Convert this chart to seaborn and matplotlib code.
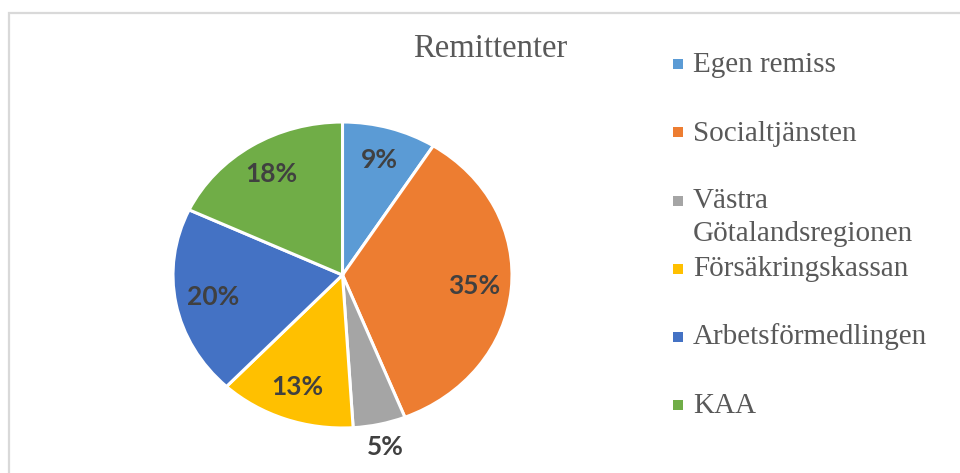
import matplotlib
matplotlib.use("Agg")
import matplotlib.pyplot as plt
import seaborn as sns
import numpy as np
from matplotlib.patches import Rectangle

# ---- data ----
title = "Remittenter"
categories = ["Egen remiss", "Socialtjänsten", "Västra\nGötalandsregionen",
              "Försäkringskassan", "Arbetsförmedlingen", "KAA"]
values = [9, 35, 5, 13, 20, 18]
colors = sns.color_palette(["#5B9BD5", "#ED7D31", "#A5A5A5", "#FFC000", "#4472C4", "#70AD47"])

sns.set_theme(style="white")
plt.rcParams["font.family"] = ["DejaVu Sans"]

W, H = 960, 473
fig = plt.figure(figsize=(W / 100, H / 100), dpi=100)
fig.patch.set_facecolor("white")

def fx(px):
    return px / W

def fy(py):
    return (H - py) / H

# chart border (light gray frame, cut off at right and bottom)
fig.add_artist(Rectangle((fx(9), fy(482)), fx(960) - fx(9) + 0.01, fy(13) - fy(482),
                         transform=fig.transFigure, fill=False,
                         edgecolor="#d9d9d9", linewidth=1.6))

# pie axes (slightly stretched horizontally as in reference)
left, right, top, bottom = 173, 512, 122, 428
ax = fig.add_axes([fx(left), fy(bottom), fx(right) - fx(left), fy(top) - fy(bottom)])
wedges, _ = ax.pie(values, colors=colors, startangle=90, counterclock=False,
                   wedgeprops=dict(edgecolor="white", linewidth=2.2))
ax.set_aspect("auto")
ax.set_xlim(-1, 1)
ax.set_ylim(-1, 1)
ax.axis("off")

total = sum(values)
for w, v in zip(wedges, values):
    ang = np.deg2rad((w.theta1 + w.theta2) / 2)
    r = 0.78 if v / total > 0.07 else 1.15
    ax.text(r * np.cos(ang), r * np.sin(ang), f"{v}%", ha="center", va="center",
            fontsize=19, fontweight="bold", color="#404040", family="Lato",
            clip_on=False)

# title
fig.text(fx(490.5), fy(57), title, ha="center", va="baseline",
         fontsize=23.5, color="#595959", family="Liberation Serif")

# legend (manual)
sq = 10
y0, step = 64.5, 68
line_h = 32
for i, (lab, col) in enumerate(zip(categories, colors)):
    yc = y0 + step * i
    fig.add_artist(Rectangle((fx(673), fy(yc + sq / 2)), fx(sq), sq / H,
                             transform=fig.transFigure, facecolor=col, edgecolor="none"))
    for k, line in enumerate(lab.split("\n")):
        fig.text(fx(693), fy(yc + 8 + k * line_h), line, ha="left", va="baseline",
                 fontsize=21, color="#595959", family="Liberation Serif")

fig.savefig("out.png", dpi=100)
